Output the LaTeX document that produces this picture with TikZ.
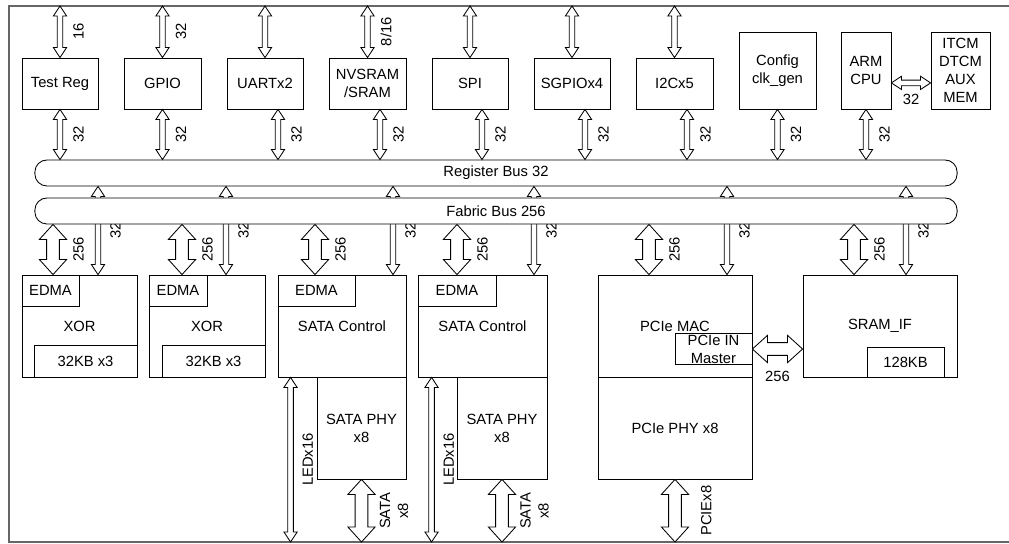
\documentclass[tikz,border=0pt]{standalone}
\usepackage{fontspec}
\setmainfont{Liberation Sans}
\usetikzlibrary{calc,positioning}

\begin{document}
\begin{tikzpicture}[x=0.025cm, y=-0.025cm,
    every node/.style={font=\fontsize{10.5pt}{12.8pt}\selectfont},
    blk/.style 2 args={rectangle, draw, line width=0.6pt, align=center, inner sep=1pt,
                minimum width=#1, minimum height=#2},
    bus/.style={rectangle, draw, fill=white, rounded corners=0.3cm, line width=0.6pt,
                minimum width=23.05cm, minimum height=0.65cm},
    hollow/.style n args={3}{draw, fill=white, line width=0.6pt, to path={
        -- ($(\tikztostart)!#3!(\tikztotarget)!#2!90:(\tikztotarget)$)
        -- ($(\tikztostart)!#3!(\tikztotarget)!#1!90:(\tikztotarget)$)
        -- ($(\tikztotarget)!#3!(\tikztostart)!#1!-90:(\tikztostart)$)
        -- ($(\tikztotarget)!#3!(\tikztostart)!#2!-90:(\tikztostart)$)
        -- (\tikztotarget)
        -- ($(\tikztotarget)!#3!(\tikztostart)!#2!90:(\tikztostart)$)
        -- ($(\tikztotarget)!#3!(\tikztostart)!#1!90:(\tikztostart)$)
        -- ($(\tikztostart)!#3!(\tikztotarget)!#1!-90:(\tikztotarget)$) \tikztonodes
        -- ($(\tikztostart)!#3!(\tikztotarget)!#2!-90:(\tikztotarget)$)
        -- cycle}},
    thinarr/.style={hollow={0.07cm}{0.165cm}{0.25cm}},
    fatarr/.style={hollow={0.16cm}{0.34cm}{0.375cm}},
    lbl/.style={midway, rotate=90, anchor=north, align=center, inner xsep=0pt, inner ysep=#1},
    lbl/.default=0.25cm,
    hlbl/.style={midway, anchor=north, inner xsep=0pt, inner ysep=#1}
]
\useasboundingbox (0,0) rectangle (1009,544);
\draw[line width=1pt, black!60] (1009,6) -- (9,6) -- (9,542) -- (1009,542);
\coordinate (top) at (0,6);
\coordinate (bot) at (0,542);

% peripheral blocks
\node[blk={1.9cm}{1.275cm}] (treg) at (60,83.5) {Test Reg};
\node[blk={1.925cm}{1.275cm}] (gpio) at (162.5,83.5) {GPIO};
\node[blk={1.9cm}{1.275cm}] (uart) at (265,83.5) {UARTx2};
\node[blk={1.925cm}{1.275cm}] (nvsram) at (367.5,83.5) {NVSRAM\\/SRAM};
\node[blk={1.9cm}{1.275cm}] (spi) at (470,83.5) {SPI};
\node[blk={1.9cm}{1.275cm}] (sgpio) at (572,83.5) {SGPIOx4};
\node[blk={1.925cm}{1.275cm}] (i2c) at (674.5,83.5) {I2Cx5};
\node[blk={1.925cm}{1.925cm}] (config) at (777.5,70.5) {Config\\clk\_gen};
\node[blk={1.25cm}{1.925cm}] (arm) at (866,70.5) {ARM\\CPU};
\node[blk={1.475cm}{1.925cm}] (itcm) at (960.5,70.5) {ITCM\\DTCM\\AUX\\MEM};

\node[bus] (rbus) at (496,173) {Register Bus 32};

% lower blocks
\node[blk={2.875cm}{2.55cm}] (xor1) at (79.5,326) {XOR};
\node[blk={1.425cm}{0.775cm}] (edma1) at (50.5,290.5) {EDMA};
\node[blk={2.575cm}{0.8cm}] (mem1) at (85.5,361) {32KB x3};
\node[blk={2.9cm}{2.55cm}] (xor2) at (207,326) {XOR};
\node[blk={1.45cm}{0.775cm}] (edma2) at (178,290.5) {EDMA};
\node[blk={2.575cm}{0.8cm}] (mem2) at (213.5,361) {32KB x3};
\node[blk={3.2cm}{2.55cm}] (sata1) at (342,326) {SATA Control};
\node[blk={1.925cm}{0.775cm}] (edma3) at (316.5,290.5) {EDMA};
\node[blk={2.225cm}{2.55cm}] (phy1) at (361.5,428) {SATA PHY\\x8};
\node[blk={3.225cm}{2.55cm}] (sata2) at (482.5,326) {SATA Control};
\node[blk={1.95cm}{0.775cm}] (edma4) at (457,290.5) {EDMA};
\node[blk={2.25cm}{2.55cm}] (phy2) at (502,428) {SATA PHY\\x8};
\node[blk={3.85cm}{2.55cm}] (pcie) at (675,326) {PCIe MAC};
\node[blk={1.925cm}{0.75cm}] (pciein) at (713.5,349) {PCIe IN\\Master};
\node[blk={3.85cm}{2.55cm}] (pciephy) at (675,428) {PCIe PHY x8};
\node[blk={3.85cm}{2.55cm}] (sramif) at (880,326) {SRAM\_IF};
\node[blk={1.925cm}{0.75cm}] (mem3) at (905.5,362) {128KB};

% external ports
\foreach \b in {treg,gpio,uart,nvsram,spi,sgpio,i2c}
  \coordinate (\b-up) at (\b.north |- top);
\draw[thinarr] (treg.north) to node[lbl]{16} (treg-up);
\draw[thinarr] (gpio.north) to node[lbl]{32} (gpio-up);
\draw[thinarr] (uart.north) to (uart-up);
\draw[thinarr] (nvsram.north) to node[lbl]{8/16} (nvsram-up);
\draw[thinarr] (spi.north) to (spi-up);
\draw[thinarr] (sgpio.north) to (sgpio-up);
\draw[thinarr] (i2c.north) to (i2c-up);

\coordinate (arm-e) at ([yshift=-0.31cm]arm.east);
\coordinate (itcm-w) at (arm-e -| itcm.west);
\draw[thinarr] (arm-e) to node[hlbl=0.2cm]{32} (itcm-w);

% register bus taps
\foreach \b/\dx in {treg/0,gpio/0,uart/13,nvsram/12.5,spi/12,sgpio/13,i2c/12.5,config/0,arm/0}{
  \coordinate (\b-s) at ($(\b.south)+(\dx,0)$);
  \coordinate (\b-r) at (\b-s |- rbus.north);
  \draw[thinarr] (\b-r) to node[lbl]{32} (\b-s);
}
\foreach \b/\dx in {xor1/18.5,xor2/19,sata1/51,sata2/51.5,pcie/52,sramif/26}{
  \coordinate (\b-t) at ($(\b.north)+(\dx,0)$);
  \coordinate (\b-r) at (\b-t |- rbus.south);
  \draw[thinarr] (\b-t) to node[lbl=0.23cm]{32} (\b-r);
}

\node[bus] (fbus) at (496,211) {Fabric Bus 256};

% fabric bus taps
\foreach \b/\dx in {xor1/-26.5,xor2/-25,sata1/-27,sata2/-25.5,pcie/-26,sramif/-26}{
  \coordinate (\b-f) at ($(\b.north)+(\dx,0)$);
  \coordinate (\b-g) at (\b-f |- fbus.south);
  \draw[fatarr] (\b-f) to node[lbl=0.34cm]{256} (\b-g);
}
\coordinate (sram-w) at (pciein.east -| sramif.west);
\draw[fatarr] (pciein.east) to node[hlbl=0.38cm]{256} (sram-w);

% pins
\coordinate (led1) at ($(sata1.south west)+(13,0)$);
\coordinate (led2) at ($(sata2.south west)+(14,0)$);
\coordinate (led1-b) at (led1 |- bot);
\coordinate (led2-b) at (led2 |- bot);
\draw[thinarr] (led1-b) to node[lbl=0.22cm]{LEDx16} (led1);
\draw[thinarr] (led2-b) to node[lbl=0.22cm]{LEDx16} (led2);
\coordinate (phy1-b) at (phy1.south |- bot);
\coordinate (phy2-b) at (phy2.south |- bot);
\coordinate (pciephy-b) at (pciephy.south |- bot);
\draw[fatarr] (phy1-b) to node[lbl=0.29cm]{SATA\\x8} (phy1.south);
\draw[fatarr] (phy2-b) to node[lbl=0.29cm]{SATA\\x8} (phy2.south);
\draw[fatarr] (pciephy-b) to node[lbl=0.48cm]{PCIEx8} (pciephy.south);
\end{tikzpicture}
\end{document}
